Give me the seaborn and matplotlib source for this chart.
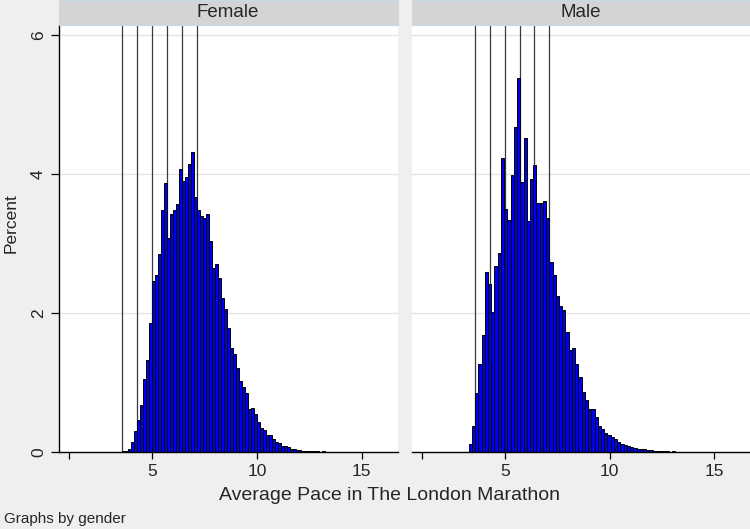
import numpy as np
import pandas as pd
import matplotlib
matplotlib.use("Agg")
import matplotlib.pyplot as plt
from matplotlib.patches import Rectangle
import seaborn as sns

# ---------------- data (percent per bin) ----------------
genders = ["Female", "Male"]
bin_start = {"Female": 3.555, "Male": 3.246}     # left edge of first bin
bin_width = {"Female": 0.1429, "Male": 0.1546}   # bin width (min per km)

female_pct = [0.01, 0.02, 0.05, 0.14, 0.30, 0.46, 0.68, 1.05, 1.33, 1.85,
              2.46, 2.54, 2.84, 3.48, 3.87, 3.07, 3.42, 3.48, 3.56, 4.07, 3.89,
              3.96, 4.14, 4.32, 3.67, 3.48, 3.39, 3.36, 3.42, 3.04, 2.65, 2.70,
              2.50, 2.22, 2.06, 1.78, 1.50, 1.41, 1.21, 1.02, 0.94, 0.85, 0.62,
              0.63, 0.54, 0.43, 0.35, 0.31, 0.24, 0.24, 0.19, 0.14, 0.13, 0.09,
              0.08, 0.07, 0.05, 0.04, 0.03, 0.03, 0.02, 0.02, 0.01, 0.01, 0.01,
              0.01, 0.005, 0.01, 0.005, 0.005, 0.005, 0.005, 0, 0.005, 0, 0, 0,
              0, 0.005, 0.005, 0, 0, 0, 0, 0.005, 0, 0, 0, 0.005]

male_pct = [0.12, 0.38, 0.85, 1.26, 1.68, 2.59, 2.41, 2.01, 2.67, 2.86, 4.23,
            3.49, 3.34, 3.99, 4.68, 5.38, 3.88, 4.52, 3.32, 3.92, 4.13, 3.58,
            3.58, 3.61, 3.36, 2.73, 2.54, 2.25, 2.10, 2.04, 1.72, 1.46, 1.50,
            1.27, 1.08, 0.86, 0.75, 0.62, 0.62, 0.51, 0.38, 0.33, 0.28, 0.24,
            0.21, 0.18, 0.14, 0.12, 0.10, 0.08, 0.07, 0.06, 0.05, 0.04, 0.04,
            0.03, 0.03, 0.02, 0.02, 0.01, 0.01, 0.01, 0.005, 0.01, 0.005,
            0.005, 0, 0.005, 0, 0, 0.005]

# finishing times 2:30 ... 5:00 h expressed as pace (min/km)
ref_times_min = [150, 180, 210, 240, 270, 300]
marathon_km = 42.195
x_ticks = [5, 10, 15]
y_ticks = [0, 2, 4, 6]

x_label = "Average Pace in The London Marathon"
y_label = "Percent"
note = "Graphs by gender"

# ---------------- build long table ----------------
rows = []
for g, pct in zip(genders, [female_pct, male_pct]):
    for i, p in enumerate(pct):
        rows.append({"gender": g,
                     "pace": bin_start[g] + (i + 0.5) * bin_width[g],
                     "percent": p})
df = pd.DataFrame(rows)
counts = {"Female": len(female_pct), "Male": len(male_pct)}
ref_lines = [t / marathon_km for t in ref_times_min]

# ---------------- figure ----------------
sns.set_style("white")
plt.rcParams["font.family"] = ["Liberation Sans", "DejaVu Sans"]

W, H = 750, 529
fig = plt.figure(figsize=(W / 100, H / 100), dpi=100)
fig.patch.set_facecolor("#efefef")

def fx(px):
    return px / W

def fy(py):
    return 1 - py / H

panels = [(58.5, 397.5), (411.5, 750)]
top_px, bot_px = 25, 452
xlim = (0.51, 16.72)
ylim = (0, 6.14)

for k, (g, (x0, x1)) in enumerate(zip(genders, panels)):
    ax = fig.add_axes([fx(x0), fy(bot_px), fx(x1 - x0), (bot_px - top_px) / H])
    ax.set_facecolor("white")
    for yv in y_ticks[1:]:
        ax.axhline(yv, color="#e3e3e3", lw=0.9, zorder=0)
    for xv in ref_lines:
        ax.axvline(xv, color="#3a3a3a", lw=0.9, zorder=1)
    edges = [bin_start[g] + i * bin_width[g] for i in range(counts[g] + 1)]
    sub = df[df["gender"] == g].reset_index(drop=True)
    sns.histplot(data=sub, x="pace", weights="percent",
                 bins=edges, stat="count", color="#0000f0", alpha=1,
                 edgecolor="black", linewidth=0.7, ax=ax)
    ax.set_xlim(*xlim)
    ax.set_ylim(*ylim)
    ax.set_xlabel("")
    ax.set_ylabel("")
    for s in ["top", "right"]:
        ax.spines[s].set_visible(False)
    ax.spines["bottom"].set_color("black")
    ax.spines["bottom"].set_linewidth(1.0)
    ax.set_xticks([1] + x_ticks)
    ax.set_xticklabels([""] + [str(v) for v in x_ticks])
    ax.tick_params(axis="x", length=5, width=0.9, color="black",
                   labelsize=12.5, pad=4, direction="out", bottom=True)
    if k == 0:
        ax.spines["left"].set_color("black")
        ax.spines["left"].set_linewidth(1.0)
        ax.set_yticks(y_ticks)
        ax.set_yticklabels([str(v) for v in y_ticks], rotation=90, va="center")
        ax.tick_params(axis="y", length=6, width=0.9, color="black",
                       labelsize=12.5, pad=3, direction="out", left=True)
    else:
        ax.spines["left"].set_visible(False)
        ax.set_yticks([])

    # strip header
    fig.patches.append(Rectangle((fx(x0), fy(24.5)), fx(x1 - x0 + 0.5), 24.5 / H,
                                 transform=fig.transFigure, facecolor="#d4d4d4",
                                 edgecolor="#c8d8e4", linewidth=0.8, zorder=0))
    fig.text(fx((x0 + x1) / 2), fy(12.5), g, ha="center", va="center",
             fontsize=13.5)

fig.text(fx(389), fy(496), x_label, ha="center", va="center", fontsize=14)
fig.text(fx(11), fy(223), y_label, ha="center", va="center", rotation=90,
         fontsize=12.5)
fig.text(fx(4), fy(519), note, ha="left", va="center", fontsize=11)

fig.savefig("out.png", dpi=100, facecolor=fig.get_facecolor())
